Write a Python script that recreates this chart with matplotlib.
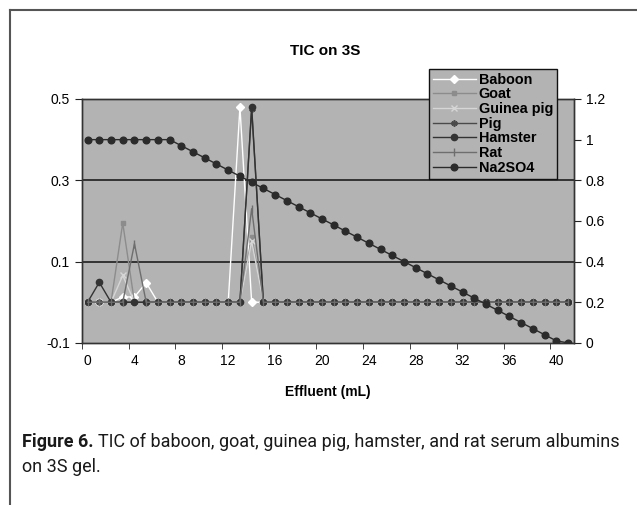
import matplotlib
matplotlib.use("Agg")
import matplotlib.pyplot as plt
from matplotlib.lines import Line2D

plt.rcParams['font.family'] = ['Liberation Sans', 'DejaVu Sans']

# effluent volume (mL), one point per fraction
effluent = list(range(42))

baboon = [0, 0, 0, 0.013, 0.013, 0.048, 0, 0, 0, 0, 0, 0, 0, 0.48,
          0, 0, 0, 0, 0, 0, 0, 0, 0, 0, 0, 0, 0, 0,
          0, 0, 0, 0, 0, 0, 0, 0, 0, 0, 0, 0, 0, 0]
goat = [0, 0, 0, 0.195, 0, 0, 0, 0, 0, 0, 0, 0, 0, 0,
        0.16, 0, 0, 0, 0, 0, 0, 0, 0, 0, 0, 0, 0, 0,
        0, 0, 0, 0, 0, 0, 0, 0, 0, 0, 0, 0, 0, 0]
guinea_pig = [0, 0, 0, 0.066, 0, 0, 0, 0, 0, 0, 0, 0, 0, 0,
              0.15, 0, 0, 0, 0, 0, 0, 0, 0, 0, 0, 0, 0, 0,
              0, 0, 0, 0, 0, 0, 0, 0, 0, 0, 0, 0, 0, 0]
pig = [0, 0, 0, 0, 0, 0, 0, 0, 0, 0, 0, 0, 0, 0,
       0.475, 0, 0, 0, 0, 0, 0, 0, 0, 0, 0, 0, 0, 0,
       0, 0, 0, 0, 0, 0, 0, 0, 0, 0, 0, 0, 0, 0]
hamster = [0, 0.049, 0, 0, 0, 0, 0, 0, 0, 0, 0, 0, 0, 0,
           0.48, 0, 0, 0, 0, 0, 0, 0, 0, 0, 0, 0, 0, 0,
           0, 0, 0, 0, 0, 0, 0, 0, 0, 0, 0, 0, 0, 0]
rat = [0, 0, 0, 0, 0.144, 0, 0, 0, 0, 0, 0, 0, 0, 0,
       0.23, 0, 0, 0, 0, 0, 0, 0, 0, 0, 0, 0, 0, 0,
       0, 0, 0, 0, 0, 0, 0, 0, 0, 0, 0, 0, 0, 0]
na2so4 = [1.0, 1.0, 1.0, 1.0, 1.0, 1.0, 1.0, 1.0, 0.97, 0.94, 0.91, 0.88, 0.85, 0.82,
          0.79, 0.76, 0.73, 0.70, 0.67, 0.64, 0.61, 0.58, 0.55, 0.52, 0.49, 0.46, 0.43, 0.40,
          0.37, 0.34, 0.31, 0.28, 0.25, 0.22, 0.19, 0.16, 0.13, 0.10, 0.07, 0.04, 0.01, 0.0]

left_ticks = [-0.1, 0.1, 0.3, 0.5]
left_labels = ['-0.1', '0.1', '0.3', '0.5']
right_ticks = [0, 0.2, 0.4, 0.6, 0.8, 1.0, 1.2]
right_labels = ['0', '0.2', '0.4', '0.6', '0.8', '1', '1.2']
x_labels = list(range(0, 41, 4))

fig = plt.figure(figsize=(6.37, 5.05), dpi=100)
ax = fig.add_axes([0.1283, 0.321, 0.7727, 0.483])
ax.set_facecolor('#b3b3b3')

ax.axhline(0.3, color='#111111', lw=1.1, zorder=1)
ax.axhline(0.1, color='#111111', lw=1.1, zorder=1)

ms = 4.5
ax.plot(effluent, baboon, color='white', lw=1, marker='D', ms=4, mfc='white', mec='white', label='Baboon', zorder=3)
ax.plot(effluent, goat, color='#8c8c8c', lw=1, marker='s', ms=3.5, mfc='#8c8c8c', mec='#8c8c8c', label='Goat', zorder=3)
ax.plot(effluent, guinea_pig, color='#d6d6d6', lw=1, marker='x', ms=ms, mew=1, label='Guinea pig', zorder=3)
ax.plot(effluent, pig, color='#4a4a4a', lw=1, marker=(6, 2, 0), ms=ms, mew=1.2, label='Pig', zorder=3)
ax.plot(effluent, hamster, color='#333333', lw=1, marker='o', ms=ms, label='Hamster', zorder=3)
ax.plot(effluent, rat, color='#6e6e6e', lw=1, marker='|', ms=6, mew=1, label='Rat', zorder=3)

ax.set_xlim(-0.5, 41.5)
ax.set_ylim(-0.1, 0.5)
ax.set_yticks(left_ticks)
ax.set_yticklabels(left_labels)
ax.set_xticks(x_labels)
ax.set_xticklabels([str(v) for v in x_labels])
ax.set_xticks([v - 0.5 for v in x_labels], minor=True)
ax.tick_params(axis='x', which='major', length=0, labelsize=10, pad=8)
ax.tick_params(axis='x', which='minor', length=4, direction='out', color='#222222')
ax.tick_params(axis='y', length=5, direction='out', labelsize=10, color='#222222')
for s in ax.spines.values():
    s.set_color('#333333')
    s.set_linewidth(1.0)

ax2 = ax.twinx()
ax2.plot(effluent, na2so4, color='#2b2b2b', lw=1, marker='o', ms=4.8, label='Na2SO4', zorder=4)
ax2.set_ylim(0, 1.2)
ax2.set_yticks(right_ticks)
ax2.set_yticklabels(right_labels)
ax2.tick_params(axis='y', length=5, direction='out', labelsize=10, color='#222222')
for s in ax2.spines.values():
    s.set_color('#333333')
    s.set_linewidth(1.0)

handles = ax.get_lines()[2:] + ax2.get_lines()
leg = fig.legend(handles=handles, labels=[h.get_label() for h in handles],
                 loc='upper left', bbox_to_anchor=(429 / 637, 1 - 69 / 505),
                 bbox_transform=fig.transFigure, fancybox=False, framealpha=1,
                 facecolor='#b3b3b3', edgecolor='#111111',
                 prop={'weight': 'bold', 'size': 10.4}, labelspacing=0.05,
                 handlelength=3.0, handletextpad=0.2, borderpad=0.25, borderaxespad=0)
leg.get_frame().set_linewidth(1.0)
leg.set_zorder(10)

fig.text(0.51, 0.899, 'TIC on 3S', ha='center', va='center', fontsize=11, fontweight='bold')
fig.text(0.514, 0.224, 'Effluent (mL)', ha='center', va='center', fontsize=10, fontweight='bold')

# outer frame of the figure box
fig.add_artist(Line2D([10 / 637, 1], [1 - 10 / 505, 1 - 10 / 505], transform=fig.transFigure, color='#555555', lw=1.5))
fig.add_artist(Line2D([10 / 637, 10 / 637], [0, 1 - 10 / 505], transform=fig.transFigure, color='#555555', lw=1.5))

# caption: bold label, then the rest of the line right after it
cap_font = ['Roboto', 'DejaVu Sans']
cap_size = 13
t1 = fig.text(22 / 637, 1 - 447 / 505, 'Figure 6.', ha='left', va='baseline', fontsize=cap_size,
              fontweight='bold', family=cap_font, color='#1a1a1a')
fig.canvas.draw()
x1 = t1.get_window_extent().x1 + 4
fig.text(x1 / fig.bbox.width, 1 - 447 / 505,
         'TIC of baboon, goat, guinea pig, hamster, and rat serum albumins',
         ha='left', va='baseline', fontsize=cap_size, family=cap_font, color='#1a1a1a')
fig.text(22 / 637, 1 - 472 / 505, 'on 3S gel.', ha='left', va='baseline', fontsize=cap_size,
         family=cap_font, color='#1a1a1a')

fig.savefig('out.png', dpi=100)
